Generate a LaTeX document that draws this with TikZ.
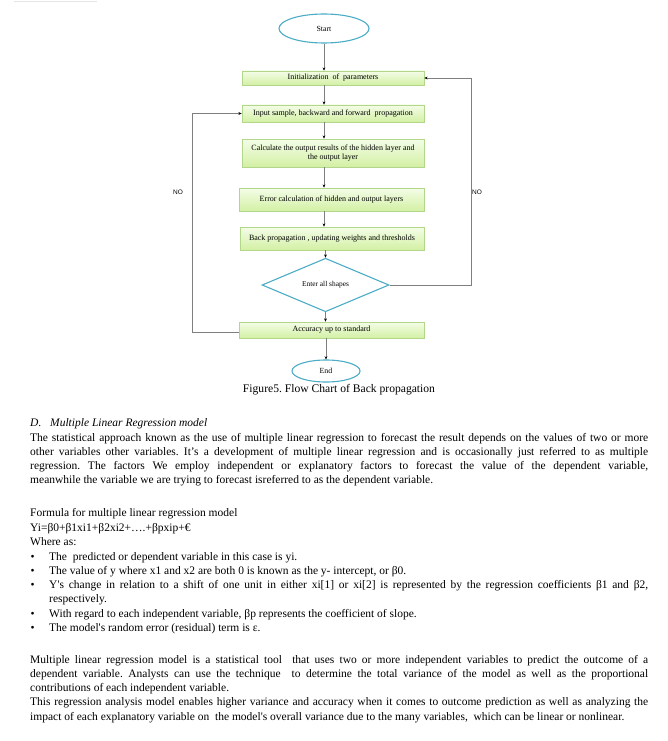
\documentclass[tikz,border=0pt]{standalone}
\usepackage{fontspec}
\setmainfont{Liberation Serif}[Ligatures=TeXOff]
\newfontfamily\arialf{Liberation Sans}
\usetikzlibrary{arrows.meta,shapes.geometric,shadows}
\definecolor{boxtop}{HTML}{F4FDE8}
\definecolor{boxbot}{HTML}{D3F0A4}
\definecolor{boxline}{HTML}{B2D68A}
\definecolor{ellblue}{HTML}{4BACC6}
\definecolor{conn}{HTML}{7F7F7F}
\newcommand{\jlfull}[1]{\hbox to 618pt{#1}}
\newcommand{\jlbul}[1]{\hbox to 599pt{#1}}
\frenchspacing
\begin{document}
\begin{tikzpicture}[x=1pt,y=-1pt,
  procbox/.style={rectangle, draw=boxline, line width=0.7pt, top color=boxtop, bottom color=boxbot,
    inner sep=0pt, align=center, font=\fontsize{8}{9.3}\selectfont,
    drop shadow={shadow xshift=0.8pt, shadow yshift=-0.9pt, opacity=0.35, fill=black!60}},
  startend/.style={ellipse, draw=ellblue, line width=1.1pt, fill=white, inner sep=0pt,
    font=\fontsize{7.8}{9}\selectfont},
  decision/.style={diamond, draw=ellblue, line width=1.1pt, fill=white, inner sep=0pt,
    minimum width=127pt, minimum height=36pt, font=\fontsize{7.4}{9}\selectfont},
  arr/.style={draw=conn, line width=0.8pt, -{Stealth[length=3.2pt,width=2.8pt,black]}},
  nolabel/.style={font=\arialf\fontsize{6.5}{8}\selectfont, inner sep=0pt},
  body/.style={anchor=base west, inner sep=0pt, font=\fontsize{11.5}{14}\selectfont},
]
\useasboundingbox (0,0) rectangle (667,741);
\draw[black!10, line width=0.5pt] (14,1) -- (97,1);

% ---------- flow chart ----------
\node[startend, minimum width=90pt, minimum height=29pt] (start) at (324,28.5) {Start};
\node[procbox, minimum width=182pt, minimum height=14pt] (init) at (333,78) {Initialization\ \ of\ \ parameters};
\node[procbox, minimum width=182pt, minimum height=17pt] (input) at (333,113.5) {Input sample, backward and forward\ \ propagation};
\node[procbox, minimum width=182pt, minimum height=28pt] (calc) at (333,153) {Calculate the output results of the hidden layer and\\the output layer};
\node[procbox, minimum width=185pt, minimum height=23pt] (err) at (331.5,199.5) {Error calculation of hidden and output layers};
\node[procbox, minimum width=184pt, minimum height=23pt] (back) at (332,238.5) {Back propagation , updating weights and thresholds};
\node[decision] (dia) at (325.5,285) {Enter all shapes};
\node[procbox, minimum width=185pt, minimum height=16pt] (acc) at (331.5,330) {Accuracy up to standard};
\node[startend, minimum width=68pt, minimum height=22pt] (endn) at (326,371) {End};

\draw[arr] (start.south) -- (init.north -| start.south);
\draw[arr] (init.south -| start) -- (input.north -| start);
\draw[arr] (input.south -| start) -- (calc.north -| start);
\draw[arr] (calc.south -| start) -- (err.north -| start);
\draw[arr] (err.south -| start) -- (back.north -| start);
\draw[arr] (back.south -| dia) -- (dia.north);
\draw[arr] (dia.south) -- (acc.north -| dia);
\draw[arr] (acc.south -| endn) -- (endn.north);

\coordinate (rbot) at (471,285);
\coordinate (rtop) at (471,78);
\draw[arr] (dia.east) -- (rbot) -- (rtop) -- (init.east);
\coordinate (lbot) at (192,332);
\coordinate (ltop) at (192,113.5);
\draw[arr] (acc.west |- lbot) -- (lbot) -- (ltop) -- (input.west);

\node[nolabel] (noleft) at (178,192) {NO};
\node[nolabel] (noright) at (477,192) {NO};

\node[font=\fontsize{11.6}{14}\selectfont, inner sep=0pt] (cap) at (339,390) {Figure5. Flow Chart of Back propagation};

% ---------- text ----------
\node[body, font=\fontsize{11.5}{14}\selectfont\itshape] (hd1) at (30,426.5) {D.};
\node[body, font=\fontsize{11.5}{14}\selectfont\itshape] (hd2) at (50,426.5) {Multiple Linear Regression model};

\node[body] (p1) at (30,441.5) {\jlfull{The statistical approach known as the use of multiple linear regression to forecast the result depends on the values of two or more}};
\node[body] (p2) at (30,455.5) {\jlfull{other variables other variables. It’s a development of multiple linear regression and is occasionally just referred to as multiple}};
\node[body] (p3) at (30,469.5) {\jlfull{regression. The factors We employ independent or explanatory factors to forecast the value of the dependent variable,}};
\node[body] (p4) at (30,483.5) {meanwhile the variable we are trying to forecast isreferred to as the dependent variable.};

\node[body] (f1) at (30,516.5) {Formula for multiple linear regression model};
\node[body] (f2) at (30,531) {Yi=β0+β1xi1+β2xi2+….+βpxip+€};
\node[body] (f3) at (30,545.5) {Where as:};

\node[body] (bu1) at (30.5,560) {•};
\node[body] (b1) at (49,560) {The\ \ predicted or dependent variable in this case is yi.};
\node[body] (bu2) at (30.5,574.5) {•};
\node[body] (b2) at (49,574.5) {The value of y where x1 and x2 are both 0 is known as the y- intercept, or β0.};
\node[body] (bu3) at (30.5,588.5) {•};
\node[body] (b3) at (49,588.5) {\jlbul{Y's change in relation to a shift of one unit in either xi[1] or xi[2] is represented by the regression coefficients β1 and β2,}};
\node[body] (b3b) at (49,602.5) {respectively.};
\node[body] (bu4) at (30.5,617) {•};
\node[body] (b4) at (49,617) {With regard to each independent variable, βp represents the coefficient of slope.};
\node[body] (bu5) at (30.5,631) {•};
\node[body] (b5) at (49,631) {The model's random error (residual) term is ε.};

\node[body] (m1) at (30,663.5) {\jlfull{Multiple linear regression model is a statistical tool\ \ that uses two or more independent variables to predict the outcome of a}};
\node[body] (m2) at (30,677.5) {\jlfull{dependent variable. Analysts can use the technique\ \ to determine the total variance of the model as well as the proportional}};
\node[body] (m3) at (30,691.5) {contributions of each independent variable.};
\node[body] (m4) at (30,705.5) {\jlfull{This regression analysis model enables higher variance and accuracy when it comes to outcome prediction as well as analyzing the}};
\node[body] (m5) at (30,720) {impact of each explanatory variable on\ \ the model's overall variance due to the many variables,\ \ which can be linear or nonlinear.};
\end{tikzpicture}
\end{document}
